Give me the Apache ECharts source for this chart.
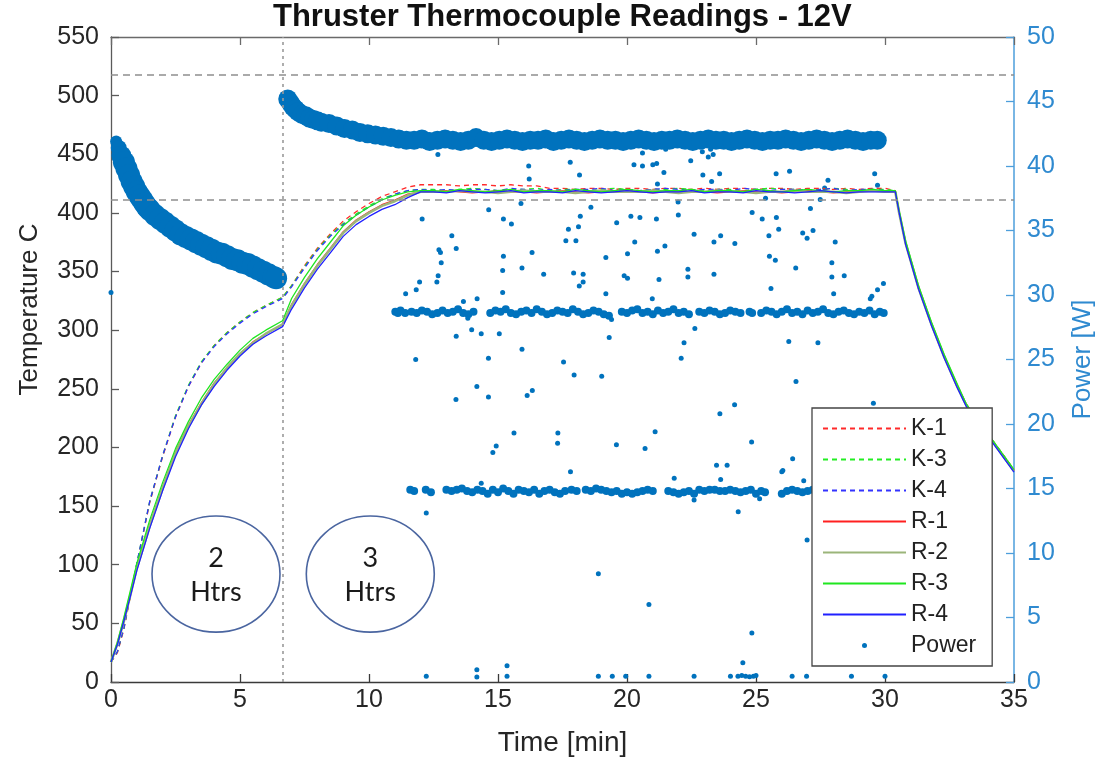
<!DOCTYPE html>
<html><head><meta charset="utf-8">
<script src="https://cdn.jsdelivr.net/npm/echarts@6/dist/echarts.min.js"></script>
<style>html,body{margin:0;padding:0;background:#fff}#chart{width:1105px;height:762px}</style>
</head><body><div id="chart"></div>
<script>
// ---------- Temperature data (time in min, temperature in C) ----------
const timeT = [
  0, 0.25, 0.5, 0.75, 1, 1.5, 2, 2.5, 3, 3.5, 4, 4.5, 5, 5.5, 6, 6.65, 7, 7.5, 8, 8.5, 9, 9.5, 10, 10.5, 11, 11.5, 12,
  12.5, 13, 13.5, 14, 14.5, 15, 15.5, 16, 16.5, 17, 17.5, 18, 18.5, 19, 19.5, 20, 20.5, 21,
  21.5, 22, 22.5, 23, 23.5, 24, 24.5, 25, 25.5, 26, 26.5, 27, 27.5, 28, 28.5, 29, 29.5, 30,
  30.4, 30.55, 30.8, 31.3, 31.8, 32.3, 32.8, 33.15, 35
];
const K1 = [
  17, 25, 45, 73, 100, 153, 192, 226, 252, 272, 287, 298, 307, 315, 321, 328, 338, 355, 370, 382, 393, 401, 408, 414, 418, 422, 424,
  424, 424, 423, 424, 424, 423, 424, 423, 423, 421, 421, 420, 421, 421, 420, 421, 421, 420,
  421, 421, 420, 421, 420, 421, 421, 420, 421, 421, 420, 421, 421, 420, 421, 420, 421, 421,
  419, 401, 375, 337, 306, 278, 253, 237, 181
];
const K3 = [
  17, 26, 46, 74, 101, 154, 193, 227, 253, 273, 287, 298, 307, 315, 321, 328, 338, 354, 369, 381, 391, 399, 406, 412, 416, 419, 420,
  420, 419, 420, 421, 420, 419, 420, 420, 421, 419, 420, 420, 419, 420, 421, 420, 419, 420,
  420, 421, 420, 419, 420, 420, 419, 420, 421, 420, 420, 419, 420, 421, 420, 419, 420, 420,
  419, 401, 375, 337, 306, 278, 253, 237, 181
];
const K4 = [
  17, 26, 46, 74, 101, 154, 193, 226, 252, 272, 286, 297, 306, 314, 320, 327, 337, 353, 368, 380, 390, 398, 405, 411, 416, 419, 420,
  419, 420, 419, 420, 420, 419, 421, 420, 419, 420, 419, 420, 420, 421, 419, 420, 419, 420,
  421, 420, 419, 420, 420, 419, 421, 420, 419, 420, 420, 419, 420, 421, 419, 420, 420, 419,
  418, 400, 374, 336, 305, 277, 252, 236, 180
];
const R1 = [
  17, 33, 53, 75, 98, 134, 166, 196, 219, 238, 255, 268, 280, 290, 297, 305, 322, 340, 356, 370, 384, 394, 401, 407, 411, 416, 418,
  418, 419, 418, 417, 418, 419, 418, 418, 417, 418, 419, 418, 417, 418, 418, 419, 418, 417,
  418, 419, 418, 418, 417, 418, 419, 418, 418, 417, 418, 419, 418, 417, 418, 418, 419, 418,
  418, 400, 374, 336, 305, 277, 252, 236, 180
];
const R2 = [
  17, 33, 52, 74, 97, 133, 165, 195, 218, 237, 254, 268, 280, 289, 297, 305, 321, 339, 355, 369, 383, 393, 400, 406, 410, 415, 418,
  418, 418, 419, 418, 418, 417, 418, 419, 418, 418, 418, 417, 418, 419, 418, 418, 418, 419,
  418, 417, 418, 418, 419, 418, 418, 417, 418, 418, 419, 418, 418, 418, 417, 418, 419, 418,
  418, 400, 374, 336, 305, 277, 252, 236, 180
];
const R3 = [
  17, 34, 55, 78, 101, 138, 170, 199, 222, 242, 258, 271, 283, 293, 300, 308, 327, 345, 361, 375, 389, 398, 405, 411, 415, 418, 419,
  419, 418, 420, 419, 418, 419, 420, 418, 419, 419, 418, 420, 419, 418, 419, 420, 419, 418,
  419, 419, 420, 418, 419, 419, 418, 420, 419, 418, 419, 420, 419, 418, 419, 419, 420, 419,
  419, 402, 376, 338, 307, 279, 254, 237, 181
];
const R4 = [
  17, 32, 52, 73, 95, 131, 163, 192, 216, 236, 252, 266, 278, 288, 295, 303, 318, 336, 352, 366, 380, 390, 397, 403, 407, 413, 418,
  418, 417, 419, 418, 417, 418, 419, 417, 418, 418, 417, 419, 418, 417, 418, 419, 418, 417,
  418, 418, 419, 417, 418, 418, 417, 419, 418, 418, 417, 418, 419, 418, 417, 418, 418, 418,
  418, 400, 373, 335, 304, 276, 251, 235, 179
];

// ---------- Power data (time in min, power in W) ----------
// dense band, 2 heaters
const bandA_t = [0.2, 0.3, 0.4, 0.5, 0.6, 0.7, 0.8, 0.9, 1.0, 1.1, 1.2, 1.3, 1.4, 1.5, 1.7, 1.9, 2.1, 2.3, 2.5, 2.7, 2.9, 3.1, 3.3,
  3.5, 3.7, 3.9, 4.1, 4.3, 4.5, 4.7, 4.9, 5.1, 5.3, 5.5, 5.7, 5.9, 6.1, 6.3, 6.4];
const bandA_p = [41.9, 41.4, 40.8, 40.3, 39.8, 39.3, 38.8, 38.4, 38.0, 37.7, 37.4, 37.1, 36.8, 36.6, 36.2, 35.9, 35.6, 35.3, 35.0, 34.7, 34.5, 34.3, 34.1,
  33.9, 33.7, 33.5, 33.3, 33.2, 33.0, 32.8, 32.7, 32.5, 32.4, 32.2, 32.0, 31.8, 31.6, 31.4, 31.3];
// dense band, 3 heaters
const bandB_t = [6.85, 6.95, 7.05, 7.15, 7.25, 7.4, 7.55, 7.7, 7.85, 8.0, 8.15, 8.45, 8.75, 9.05, 9.35, 9.65, 9.95, 10.25, 10.55, 10.85, 11.15, 11.45,
  11.75, 12.05, 12.35, 12.65, 12.95, 13.25, 13.55, 13.85, 14.15, 14.45, 14.75, 15.05, 15.35, 15.65, 15.95, 16.25,
  16.55, 16.85, 17.15, 17.45, 17.75, 18.05, 18.35, 18.65, 18.95, 19.25, 19.55, 19.85, 20.15, 20.45, 20.75, 21.05,
  21.35, 21.65, 21.95, 22.25, 22.55, 22.85, 23.15, 23.45, 23.75, 24.05, 24.35, 24.65, 24.95, 25.25, 25.55, 25.85,
  26.15, 26.45, 26.75, 27.05, 27.35, 27.65, 27.95, 28.25, 28.55, 28.85, 29.15, 29.45, 29.7];
const bandB_p = [45.2, 44.9, 44.6, 44.4, 44.2, 44.0, 43.9, 43.7, 43.6, 43.5, 43.4, 43.3, 43.1, 42.9, 42.8, 42.6, 42.5, 42.4, 42.3, 42.2, 42.1, 42.0,
  42.0, 42.1, 41.9, 42.0, 42.1, 42.0, 41.9, 42.0, 42.2, 42.0, 41.9, 42.0, 42.1, 42.0, 41.9, 42.0,
  42.0, 42.1, 41.9, 42.0, 42.1, 42.0, 41.9, 42.0, 42.1, 42.0, 42.0, 41.9, 42.0, 42.1, 42.0, 41.9,
  42.0, 42.0, 42.1, 42.0, 41.9, 42.0, 42.1, 42.0, 42.0, 41.9, 42.0, 42.1, 42.0, 41.9, 42.0, 42.0,
  42.1, 42.0, 41.9, 42.0, 42.1, 42.0, 41.9, 42.0, 42.1, 42.0, 41.9, 42.0, 42.0];
// ~28.6 W cluster
const strip28 = [
  [11.02,28.7],[11.12,28.6],[11.22,28.8],[11.4,28.6],
  [11.65,28.7],[11.85,28.6],[12.05,28.8],[12.25,28.7],[12.45,28.5],[12.65,28.6],[12.85,28.8],[13.05,28.6],[13.25,28.7],[13.45,28.9],[13.65,28.6],[13.85,28.5],[14.05,28.7],
  [14.7,28.6],[14.9,28.8],[15.1,28.7],[15.3,28.9],[15.5,28.6],[15.7,28.5],[15.9,28.7],[16.1,28.8],[16.3,28.6],[16.5,28.9],[16.7,28.7],[16.9,28.5],[17.1,28.6],[17.3,28.8],[17.5,28.7],[17.7,28.6],[17.9,28.9],[18.1,28.7],[18.3,28.5],[18.5,28.6],[18.7,28.8],[18.9,28.7],[19.1,28.5],[19.3,28.4],
  [19.8,28.7],[20.0,28.6],[20.2,28.8],[20.4,28.9],[20.6,28.6],[20.8,28.7],[21.0,28.5],[21.2,28.8],[21.4,28.6],[21.6,28.7],[21.8,28.9],[22.0,28.6],[22.2,28.7],[22.4,28.5],
  [22.8,28.7],[23.0,28.6],[23.2,28.8],[23.4,28.7],[23.6,28.5],[23.8,28.6],[24.0,28.8],[24.2,28.7],[24.4,28.6],
  [24.75,28.7],[24.85,28.6],
  [25.2,28.6],[25.4,28.8],[25.6,28.7],[25.8,28.5],[26.0,28.7],[26.2,28.9],[26.4,28.6],[26.6,28.7],[26.8,28.5],[27.0,28.8],[27.2,28.6],[27.4,28.7],[27.6,28.9],[27.8,28.6],[28.0,28.5],[28.2,28.7],[28.4,28.8],[28.6,28.6],[28.8,28.5],[29.0,28.7],[29.2,28.6],[29.4,28.8],[29.6,28.5],[29.8,28.7],[29.95,28.6]
];
// ~15 W cluster
const strip15 = [
  [11.6,14.9],[11.75,14.8],[12.2,14.9],[12.4,14.7],
  [13.0,14.9],[13.2,14.8],[13.4,14.9],[13.6,15.0],[13.8,14.8],[14.0,14.7],[14.2,14.9],[14.4,14.8],[14.6,14.6],[14.8,14.9],[15.0,14.7],[15.2,15.0],[15.4,14.8],[15.6,14.6],[15.8,14.9],[16.0,14.8],[16.2,14.7],[16.4,14.9],[16.6,14.6],[16.8,14.8],[17.0,14.9],[17.2,14.7],[17.4,14.6],[17.6,14.8],
  [17.85,14.9],[18.05,14.8],
  [18.4,14.9],[18.6,14.8],[18.8,15.0],[19.0,14.9],[19.2,14.8],[19.4,14.7],[19.6,14.8],[19.8,14.6],[20.0,14.7],[20.2,14.6],[20.4,14.7],[20.6,14.8],[20.8,14.9],[21.0,14.8],
  [21.6,14.8],[21.8,14.7],[22.0,14.6],[22.2,14.7],[22.4,14.8],[22.6,14.6],[22.8,14.9],[23.0,14.8],[23.2,14.9],
  [23.4,14.9],[23.6,14.8],[23.8,14.8],[24.0,14.9],[24.2,14.8],[24.4,14.7],[24.6,14.8],[24.8,14.9],[25.0,14.6],[25.2,14.8],[25.35,14.7],
  [26.0,14.6],[26.2,14.8],[26.4,14.9],[26.6,14.8],[26.8,14.7],[27.0,14.8],[27.2,14.9],[27.4,14.8],[27.6,14.7],[27.8,14.9],[28.0,14.8],[28.2,14.6],[28.4,14.8],[28.6,14.9],[28.8,14.7],[29.0,14.8],[29.2,14.9],[29.4,14.7],[29.6,14.8],[29.8,14.9]
];
// scattered single readings
const outliers = [
  [0,30.2],
  [12.67,40.9],[16.19,40.0],[16.21,39.0],[17.80,40.3],[18.16,39.3],[20.6,41.0],[20.27,40.1],[20.6,40.0],[21.0,40.1],[21.15,40.2],[21.43,39.5],[21.5,41.3],[21.18,38.6],[22.47,40.4],[22.92,41.1],[23.24,41.3],[23.15,40.7],[23.34,40.9],[22.94,39.3],[23.28,38.8],[23.59,39.4],[25.78,39.4],[26.3,39.6],[27.79,38.9],[29.6,39.4],[29.71,38.5],[27.66,38.3],[27.49,37.4],[25.37,37.5],
  [15.89,37.1],[21.98,37.2],[12.06,35.9],[14.64,36.6],[15.21,35.9],[15.52,35.5],[18.19,36.1],[18.12,35.3],[18.6,36.8],[19.6,35.6],[20.15,36.1],[20.5,36.0],[21.14,35.9],[21.99,36.2],[24.85,36.4],[25.24,35.9],[25.79,36.0],[27.11,36.7],
  [13.21,34.6],[17.73,35.1],[17.63,34.2],[18.02,34.2],[20.3,34.1],[22.6,34.7],[23.63,34.6],[23.37,34.1],[24.18,34.0],[25.5,34.6],[25.88,35.1],[26.81,34.8],[26.98,34.4],[27.21,35.0],[28.07,34.1],
  [12.71,33.5],[12.77,33.3],[12.8,32.5],[13.38,33.6],[15.21,33.0],[16.32,33.3],[15.93,32.1],[15.18,31.9],[19.18,32.9],[20.02,33.2],[21.18,33.4],[21.47,33.8],[25.52,33.0],[25.75,32.7],[27.94,32.5],[22.36,32.0],[22.36,31.4],[26.54,32.1],
  [12.68,31.5],[12.63,31.0],[11.96,31.0],[11.83,30.4],[11.42,30.1],[14.19,29.7],[15.18,30.2],[16.77,31.6],[17.93,31.7],[18.3,31.6],[18.3,31.0],[18.15,30.7],[19.18,30.1],[19.89,31.5],[20.02,31.3],[21.24,31.2],[23.37,31.6],[25.58,30.5],[27.94,31.4],[28.42,31.5],[28.01,30.1],[29.94,30.9],[29.71,30.4],[29.49,29.9],[29.43,29.7],[20.98,29.7],
  [13.66,29.5],[13.83,28.2],[19.4,28.1],
  [13.38,26.8],[13.98,27.3],[14.35,27.0],[15.05,27.0],[19.31,26.7],[22.63,27.4],[22.21,26.3],[26.27,26.4],[27.4,26.3],[15.93,25.8],
  [11.81,25.0],[14.63,25.1],[17.54,24.8],[17.95,23.8],[19.02,23.7],[22.1,25.1],[26.55,23.3],[14.18,22.9],[14.63,22.1],[13.37,21.9],[16.13,22.2],[16.33,22.6],[23.6,20.8],[24.17,21.5],[29.55,21.6],
  [15.62,19.3],[17.32,19.3],[17.31,18.5],[14.93,18.3],[14.8,17.8],[19.59,18.4],[20.7,18.1],[21.09,19.4],[24.83,18.6],[26.42,17.3],[17.81,16.3],[21.83,15.8],[23.47,16.8],[23.88,16.8],[23.63,15.7],[26.0,16.3],[26.04,16.4],[26.85,15.6],[14.35,15.4],
  [12.22,13.1],[22.6,14.1],[24.31,13.2],[25.14,14.2],[26.98,11.0],[18.89,8.4],[20.85,6.0],[24.84,3.8],[24.49,1.5],[14.18,0.95],[14.18,0.39],[15.35,1.26],[15.35,0.44],
  [12.22,0.44],[18.89,0.44],[19.43,0.44],[19.95,0.44],[20.85,0.44],[22.6,0.44],[24.01,0.44],[24.3,0.44],[24.45,0.5],[24.6,0.44],[24.75,0.4],[24.9,0.44],[25.0,0.5],[26.4,0.44],[26.96,0.44],[28.7,0.44],[30.0,0.44]
];

// ---------- axis / reference values ----------
const xTicks = {min: 0, max: 35, interval: 5};
const tempTicks = {min: 0, max: 550, interval: 50};
const powerTicks = {min: 0, max: 50, interval: 5};
const refTemps = [518, 411];
const heaterSwitchTime = 6.65;

// ---------- build ----------
const FONT = 'Liberation Sans, Arial, sans-serif';
const AX = '#262626';
const PBLUE = '#0072BD';
const RBLUE = '#2f8ad0';
const pairs = (ts, vs) => ts.map((t, i) => [t, vs[i]]);

function tempSeries(name, vals, color, width, type) {
  return {
    name, type: 'line', data: pairs(timeT, vals), xAxisIndex: 0, yAxisIndex: 0,
    symbol: 'none', showSymbol: false, z: 3, silent: true, animation: false,
    lineStyle: {color, width, type}, itemStyle: {color}
  };
}
function powerSeries(data, size) {
  return {
    name: 'Power', type: 'scatter', data, xAxisIndex: 0, yAxisIndex: 1,
    symbol: 'circle', symbolSize: size, z: 1, silent: true, animation: false,
    itemStyle: {color: PBLUE, opacity: 1}
  };
}
// dense-band marker size: smaller right at the y axis so marks stay inside the plot
const bandASize = v => (v[0] < 0.25 ? 12 : v[0] < 0.35 ? 16 : v[0] < 0.45 ? 20 : 22);

const dash = [5, 4];
const k1 = tempSeries('K-1', K1, '#ff2a2a', 1.3, dash);
k1.markLine = {
  silent: true, symbol: ['none', 'none'], label: {show: false}, animation: false,
  lineStyle: {color: '#8f8f8f', width: 1.6, type: [7, 5]},
  data: [
    {yAxis: refTemps[0]}, {yAxis: refTemps[1]},
    {xAxis: heaterSwitchTime, lineStyle: {color: '#9a9a9a', width: 1.6, type: [3, 4]}}
  ]
};

const series = [
  powerSeries(pairs(bandA_t, bandA_p), bandASize),
  powerSeries(pairs(bandB_t, bandB_p), 19),
  powerSeries(strip28, 8),
  powerSeries(strip15, 8),
  powerSeries(outliers, 5),
  k1,
  tempSeries('K-3', K3, '#22ee22', 1.3, dash),
  tempSeries('K-4', K4, '#3333ff', 1.3, dash),
  tempSeries('R-1', R1, '#ff2020', 1.3, 'solid'),
  tempSeries('R-2', R2, '#9bb57a', 2.6, 'solid'),
  tempSeries('R-3', R3, '#1fe61f', 1.3, 'solid'),
  tempSeries('R-4', R4, '#2020ff', 1.3, 'solid')
];

const lineLegend = n => ({name: n, itemStyle: {opacity: 0}});
const option = {
  animation: false,
  backgroundColor: '#fff',
  title: {
    text: 'Thruster Thermocouple Readings - 12V', left: 273, top: 2, padding: 0,
    textStyle: {fontFamily: FONT, fontSize: 31, fontWeight: 'bold', color: '#111'}
  },
  grid: {left: 111, right: 91, top: 37, bottom: 78, show: false},
  legend: {
    orient: 'vertical', left: 812, top: 408, padding: [9, 16, 9, 10],
    itemWidth: 83, itemHeight: 14, itemGap: 8, selectedMode: false,
    backgroundColor: '#fff', borderColor: '#444', borderWidth: 1.3, z: 10,
    textStyle: {fontFamily: FONT, fontSize: 23, color: '#222'},
    data: [lineLegend('K-1'), lineLegend('K-3'), lineLegend('K-4'), lineLegend('R-1'),
           lineLegend('R-2'), lineLegend('R-3'), lineLegend('R-4'),
           {name: 'Power', icon: 'path://M0 0M83 14M39 7A2.5 2.5 0 1 1 44 7A2.5 2.5 0 1 1 39 7Z'}]
  },
  xAxis: [
    {
      type: 'value', position: 'bottom', ...xTicks,
      name: 'Time [min]', nameLocation: 'middle', nameGap: 47,
      nameTextStyle: {fontFamily: FONT, fontSize: 28, color: AX},
      axisLine: {show: true, onZero: false, lineStyle: {color: '#3a3a3a', width: 1.3}},
      axisTick: {show: true, inside: true, length: 8, lineStyle: {color: '#3a3a3a', width: 1.3}},
      axisLabel: {fontFamily: FONT, fontSize: 25, color: AX, margin: 6},
      splitLine: {show: false}
    },
    {
      type: 'value', position: 'top', ...xTicks,
      axisLine: {show: true, onZero: false, lineStyle: {color: '#6a6a6a', width: 1.3}},
      axisTick: {show: true, inside: true, length: 8, lineStyle: {color: '#6a6a6a', width: 1.3}},
      axisLabel: {show: false}, splitLine: {show: false}
    }
  ],
  yAxis: [
    {
      type: 'value', position: 'left', ...tempTicks,
      name: 'Temperature C', nameLocation: 'middle', nameGap: 68, nameRotate: 90,
      nameTextStyle: {fontFamily: FONT, fontSize: 26, color: AX, padding: [0, 0, 0, 100]},
      axisLine: {show: true, onZero: false, lineStyle: {color: '#5a5a5a', width: 1.3}},
      axisTick: {show: true, inside: true, length: 8, lineStyle: {color: '#5a5a5a', width: 1.3}},
      axisLabel: {fontFamily: FONT, fontSize: 25, color: AX, margin: 12},
      splitLine: {show: false}
    },
    {
      type: 'value', position: 'right', ...powerTicks,
      name: 'Power [W]', nameLocation: 'middle', nameGap: 56, nameRotate: 90,
      nameTextStyle: {fontFamily: FONT, fontSize: 26, color: RBLUE},
      axisLine: {show: true, onZero: false, lineStyle: {color: '#4d9edb', width: 1.5}},
      axisTick: {show: true, inside: true, length: 8, lineStyle: {color: '#4d9edb', width: 1.3}},
      axisLabel: {fontFamily: FONT, fontSize: 25, color: RBLUE, margin: 13},
      splitLine: {show: false}
    }
  ],
  series
};

const chart = echarts.init(document.getElementById('chart'), null, {renderer: 'canvas'});
chart.setOption(option);

// heater-count annotations placed in data coordinates
const notes = [{t: 4.07, T: 92, n: '2'}, {t: 10.05, T: 92, n: '3'}];
const noteRadius = {t: 2.48, T: 49.5};
const graphics = [];
notes.forEach(a => {
  const c = chart.convertToPixel({xAxisIndex: 0, yAxisIndex: 0}, [a.t, a.T]);
  const e = chart.convertToPixel({xAxisIndex: 0, yAxisIndex: 0}, [a.t + noteRadius.t, a.T + noteRadius.T]);
  graphics.push({type: 'ellipse', silent: true, z: 6,
    shape: {cx: c[0], cy: c[1], rx: e[0] - c[0], ry: c[1] - e[1]},
    style: {fill: 'rgba(0,0,0,0)', stroke: '#4a65a0', lineWidth: 1.6}});
  graphics.push({type: 'text', silent: true, z: 6, x: c[0], y: c[1] - 16,
    style: {text: a.n, fontFamily: 'Lato, Open Sans, sans-serif', fontSize: 27, fill: '#1a1a1a', align: 'center', verticalAlign: 'middle'}});
  graphics.push({type: 'text', silent: true, z: 6, x: c[0], y: c[1] + 18,
    style: {text: 'Htrs', fontFamily: 'Lato, Open Sans, sans-serif', fontSize: 27, fill: '#1a1a1a', align: 'center', verticalAlign: 'middle'}});
});
chart.setOption({graphic: graphics});
</script>
</body></html>
